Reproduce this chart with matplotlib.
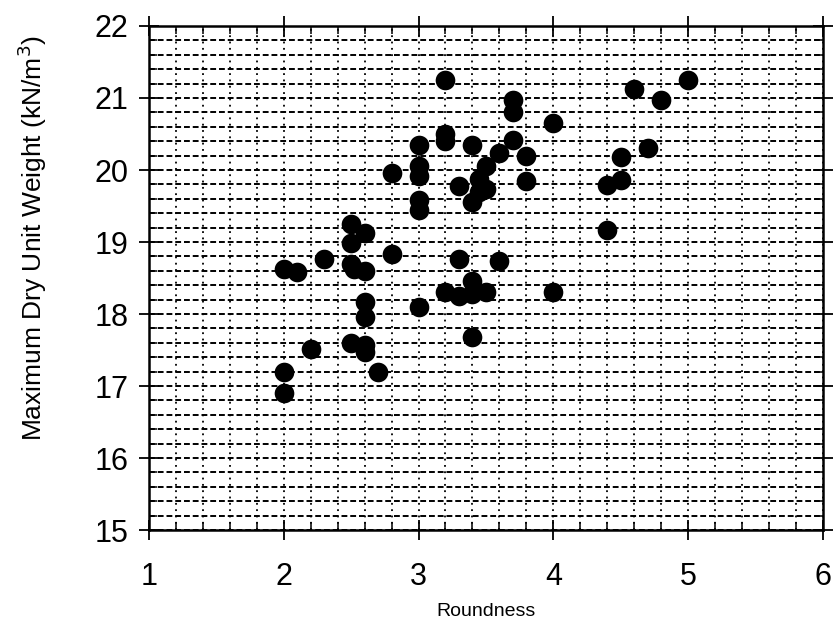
import matplotlib
matplotlib.use('Agg')
import matplotlib.pyplot as plt
from matplotlib.ticker import MultipleLocator

# Roundness vs maximum dry unit weight (kN/m^3)
roundness = [2.0, 2.1, 2.0, 2.0, 2.2, 2.3,
             2.5, 2.6, 2.5, 2.5, 2.52, 2.6, 2.5, 2.6, 2.6, 2.6, 2.6, 2.7,
             2.8, 2.8,
             3.0, 3.0, 3.0, 3.0, 3.0, 3.0,
             3.2, 3.2, 3.2, 3.2,
             3.3, 3.3, 3.3,
             3.4, 3.4, 3.45, 3.4, 3.4, 3.4,
             3.5, 3.45, 3.5, 3.5,
             3.6, 3.6, 3.7, 3.7, 3.7, 3.8, 3.8,
             4.0, 4.0,
             4.4, 4.4, 4.5, 4.5, 4.6, 4.7, 4.8, 5.0]
unit_weight = [18.62, 18.58, 17.2, 16.9, 17.52, 18.77,
               19.25, 19.12, 18.98, 18.7, 18.62, 18.6, 17.6, 17.57, 17.47, 18.16, 17.96, 17.2,
               19.96, 18.84,
               20.35, 20.05, 19.91, 19.58, 19.44, 18.1,
               21.25, 20.5, 20.4, 18.31,
               19.78, 18.77, 18.25,
               20.35, 19.55, 19.7, 18.46, 18.28, 17.68,
               20.05, 19.88, 19.74, 18.3,
               20.23, 18.74, 20.97, 20.81, 20.42, 20.2, 19.85,
               20.65, 18.31,
               19.79, 19.17, 20.18, 19.86, 21.12, 20.31, 20.97, 21.25]

x_ticks = [1, 2, 3, 4, 5, 6]
y_ticks = [15, 16, 17, 18, 19, 20, 21, 22]

fig = plt.figure(figsize=(8.37, 6.34), dpi=100)
ax = fig.add_axes([0.178, 0.164, 0.805, 0.795])

ax.scatter(roundness, unit_weight, s=200, color='black', zorder=3, linewidths=0)

ax.set_xlim(1, 6)
ax.set_ylim(15, 22)
ax.set_xticks(x_ticks)
ax.set_yticks(y_ticks)
ax.xaxis.set_minor_locator(MultipleLocator(0.2))
ax.yaxis.set_minor_locator(MultipleLocator(0.2))

# dashed horizontal grid, dotted vertical grid
ax.grid(which='both', axis='y', color='black', linestyle=(0, (3, 1.5)), linewidth=1.4)
ax.grid(which='both', axis='x', color='black', linestyle=(0, (1, 2.5)), linewidth=1.3)
ax.set_axisbelow(True)

for s in ax.spines.values():
    s.set_linewidth(1.8)

ax.tick_params(which='major', direction='inout', length=14, width=1.3,
               top=True, right=True, labelsize=22)
ax.tick_params(axis='x', which='major', pad=16)
ax.tick_params(axis='y', which='major', pad=8)
ax.tick_params(which='minor', direction='in', length=6, width=1.1,
               top=True, right=True)

for lbl in ax.get_xticklabels() + ax.get_yticklabels():
    lbl.set_fontfamily('Liberation Sans')

ax.set_xlabel('Roundness', fontsize=14, family='Liberation Sans', labelpad=8)
ax.set_ylabel('Maximum Dry Unit Weight (kN/m$^3$)', fontsize=19, family='Liberation Sans')
ax.yaxis.set_label_coords(-0.149, 0.58)

fig.savefig('out.png', dpi=100)
